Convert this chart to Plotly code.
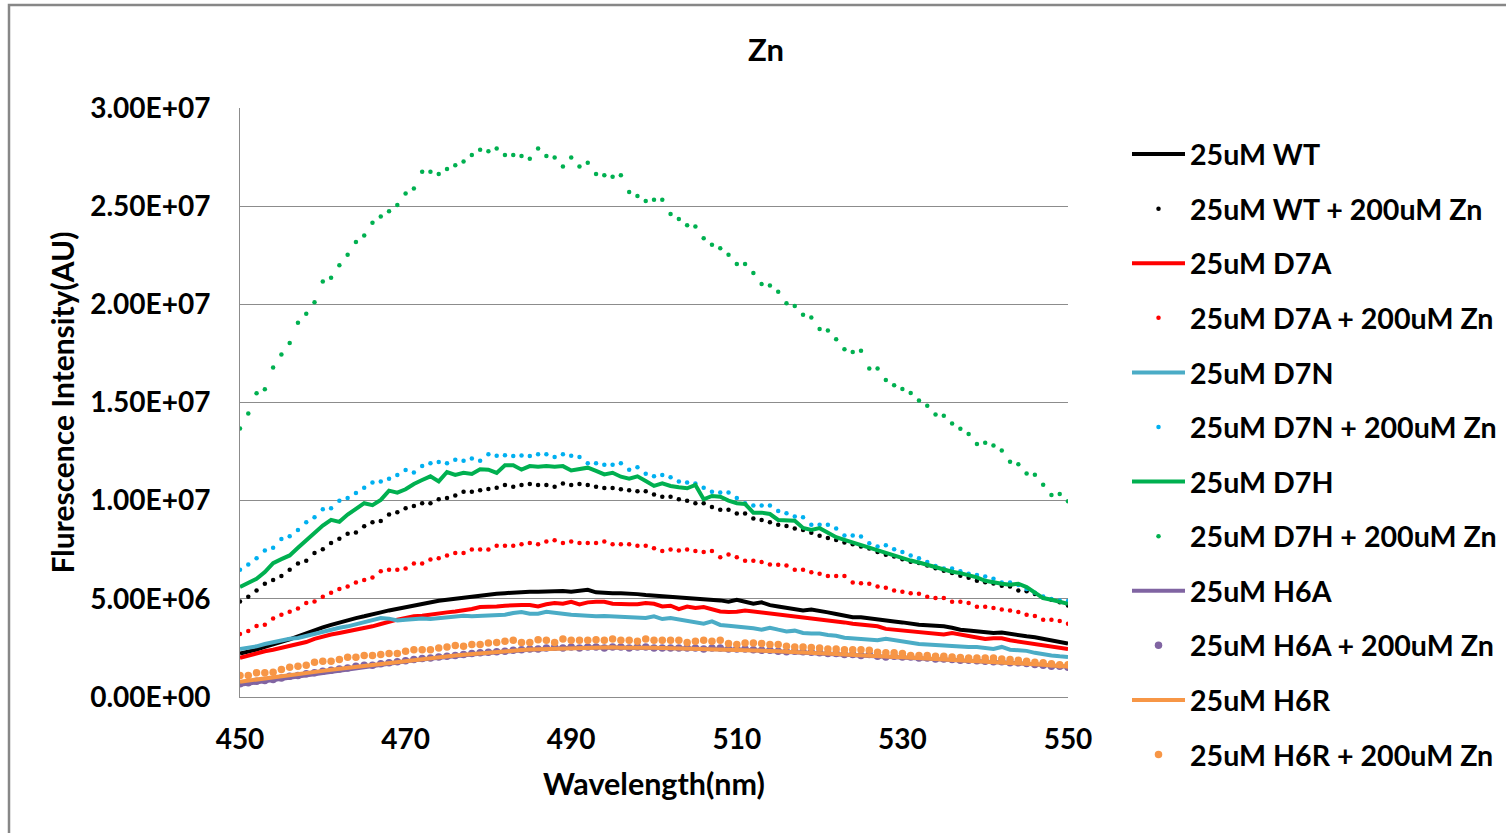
import plotly.graph_objects as go

# Wavelength (nm), 1 nm steps
wavelength = list(range(450, 551))

# Fluorescence intensity in units of 1e6 AU
wt = [2.21,2.30,2.41,2.55,2.67,2.80,2.94,3.09,3.26,3.43,3.55,3.67,3.80,3.90,4.02,4.11,4.19,4.31,4.41,4.50,
      4.56,4.66,4.75,4.82,4.90,4.95,5.01,5.07,5.12,5.16,5.21,5.26,5.29,5.33,5.33,5.36,5.36,5.38,5.36,5.40,
      5.36,5.43,5.46,5.33,5.29,5.29,5.29,5.29,5.24,5.19,
      5.16,5.12,5.12,5.09,5.04,4.99,4.95,4.92,4.92,4.85,4.95,4.85,4.75,4.82,4.68,4.61,4.55,4.48,4.41,4.45,
      4.40,4.31,4.23,4.14,4.06,4.06,4.02,3.97,3.94,3.85,3.80,3.73,3.68,3.65,3.63,3.60,3.53,3.43,3.39,3.34,
      3.31,3.26,3.29,3.21,3.16,3.09,3.04,2.96,2.89,2.78,2.72]
wt_zn = [4.87,5.11,5.43,5.77,5.96,6.16,6.48,6.80,6.94,7.33,7.53,7.84,8.06,8.31,8.38,8.70,8.90,8.97,9.29,9.41,
         9.61,9.73,9.87,9.87,10.07,10.14,10.26,10.46,10.46,10.53,10.60,10.66,10.80,10.71,10.80,10.85,10.80,10.80,10.71,10.88,
         10.80,10.85,10.80,10.71,10.65,10.65,10.58,10.53,10.48,10.48,
         10.32,10.20,10.20,10.07,10.00,9.87,9.87,9.68,9.54,9.54,9.34,9.34,9.09,9.02,8.90,8.77,8.71,8.58,8.51,8.37,
         8.21,8.10,8.00,7.87,7.78,7.66,7.56,7.39,7.24,7.15,7.02,6.89,6.82,6.70,6.56,6.43,6.31,6.17,6.07,5.92,
         5.85,5.78,5.67,5.63,5.43,5.38,5.24,5.07,4.95,4.82,4.66]
d7a = [1.99,2.11,2.25,2.33,2.41,2.50,2.62,2.67,2.80,2.96,3.09,3.18,3.26,3.34,3.43,3.53,3.60,3.72,3.84,3.94,
       4.02,4.11,4.14,4.21,4.24,4.31,4.36,4.40,4.48,4.58,4.58,4.61,4.65,4.68,4.68,4.68,4.61,4.72,4.79,4.75,
       4.85,4.72,4.82,4.85,4.85,4.75,4.72,4.72,4.72,4.79,
       4.75,4.61,4.65,4.48,4.61,4.53,4.58,4.48,4.36,4.33,4.34,4.41,4.36,4.31,4.28,4.24,4.14,4.11,4.07,4.02,
       3.97,3.90,3.87,3.80,3.73,3.67,3.63,3.60,3.47,3.43,3.43,3.39,3.33,3.26,3.23,3.18,3.26,3.18,3.09,3.06,
       2.96,2.99,2.99,2.89,2.82,2.75,2.68,2.62,2.58,2.52,2.45]
d7a_zn = [3.21,3.36,3.62,3.68,4.00,4.19,4.34,4.51,4.79,4.87,5.11,5.31,5.50,5.63,5.83,5.96,6.09,6.41,6.48,6.48,
          6.55,6.80,6.80,7.00,7.07,7.21,7.33,7.33,7.51,7.51,7.51,7.71,7.71,7.71,7.78,7.85,7.78,7.92,7.99,7.85,
          7.92,7.85,7.85,7.85,7.92,7.78,7.78,7.78,7.71,7.71,
          7.58,7.44,7.51,7.46,7.51,7.44,7.38,7.44,7.12,7.26,7.12,6.94,6.94,6.87,6.75,6.73,6.70,6.48,6.48,6.36,
          6.28,6.16,6.16,6.16,5.83,5.80,5.77,5.63,5.56,5.43,5.36,5.29,5.26,5.11,5.04,5.04,4.85,4.85,4.79,4.60,
          4.60,4.53,4.46,4.40,4.33,4.19,4.13,3.94,3.94,3.87,3.73]
d7n = [2.45,2.50,2.58,2.70,2.80,2.89,2.97,3.01,3.12,3.23,3.31,3.43,3.53,3.60,3.70,3.80,3.94,4.02,3.99,3.90,
       3.94,3.97,4.00,3.97,4.02,4.07,4.11,4.14,4.11,4.14,4.14,4.18,4.19,4.28,4.33,4.24,4.24,4.34,4.28,4.24,
       4.19,4.16,4.11,4.11,4.12,4.10,4.11,4.09,4.02,4.02,
       4.11,3.97,4.02,3.94,3.85,3.80,3.73,3.85,3.67,3.63,3.60,3.56,3.50,3.43,3.53,3.43,3.34,3.38,3.26,3.23,
       3.23,3.16,3.12,3.02,2.99,2.99,2.92,2.89,2.96,2.89,2.82,2.75,2.70,2.68,2.65,2.62,2.58,2.58,2.55,2.55,
       2.52,2.45,2.55,2.41,2.38,2.35,2.25,2.16,2.11,2.07,2.04]
d7n_zn = [6.48,6.75,7.07,7.46,7.60,8.05,8.19,8.51,8.90,9.16,9.56,9.61,10.00,10.14,10.39,10.66,10.92,10.98,11.12,11.31,
          11.56,11.44,11.76,11.90,11.97,11.90,12.08,12.03,12.15,12.03,12.36,12.29,12.31,12.27,12.30,12.28,12.36,12.36,12.22,12.36,
          12.29,12.22,11.90,11.90,11.83,11.83,11.90,11.58,11.70,11.37,
          11.24,11.31,11.19,10.98,10.92,10.88,10.66,10.46,10.41,10.41,10.14,9.87,9.75,9.75,9.75,9.48,9.36,9.19,9.16,8.77,
          8.77,8.77,8.58,8.22,8.22,8.17,7.83,7.66,7.73,7.53,7.39,7.21,7.07,6.87,6.67,6.55,6.55,6.41,6.28,6.22,
          6.14,6.02,5.83,5.83,5.70,5.50,5.31,5.12,4.99,4.92,4.89]
d7h = [5.60,5.80,6.02,6.36,6.82,7.02,7.21,7.60,7.99,8.37,8.73,9.02,8.92,9.29,9.58,9.87,9.77,10.04,10.51,10.41,
       10.58,10.85,11.05,11.24,10.98,11.46,11.31,11.42,11.36,11.60,11.58,11.41,11.80,11.80,11.58,11.76,11.73,11.76,11.73,11.76,
       11.54,11.61,11.68,11.52,11.34,11.42,11.22,11.12,11.24,11.00,
       10.75,10.88,10.75,10.68,10.63,10.80,10.07,10.24,10.20,10.00,9.87,9.83,9.39,9.39,9.32,9.02,9.02,8.98,8.61,8.51,
       8.60,8.37,8.14,8.00,7.87,7.70,7.58,7.46,7.33,7.23,7.10,6.95,6.85,6.73,6.62,6.48,6.38,6.31,6.22,6.09,
       5.92,5.83,5.77,5.72,5.77,5.60,5.29,5.04,4.95,4.84,4.75]
d7h_zn = [13.68,14.44,15.47,15.68,16.78,17.44,18.03,19.06,19.52,20.10,21.16,21.35,21.99,22.52,23.18,23.50,24.15,24.47,24.74,25.06,
          25.65,25.90,26.75,26.75,26.64,26.89,27.09,27.28,27.60,27.87,27.80,27.94,27.60,27.60,27.55,27.41,27.94,27.55,27.48,27.02,
          27.48,27.02,27.21,26.64,26.57,26.50,26.57,25.72,25.52,25.26,
          25.33,25.33,24.60,24.35,24.03,23.96,23.36,23.04,22.86,22.52,22.06,22.06,21.60,21.03,20.96,20.64,20.05,19.91,19.47,19.33,
          18.74,18.67,18.22,17.71,17.57,17.64,16.73,16.73,16.15,15.88,15.69,15.49,15.10,14.83,14.39,14.32,13.93,13.66,13.40,12.88,
          12.95,12.81,12.56,11.98,11.85,11.39,11.32,10.81,10.29,10.34,9.97]
h6a = [0.62,0.68,0.75,0.80,0.86,0.93,1.01,1.06,1.12,1.19,1.25,1.30,1.37,1.43,1.50,1.54,1.60,1.66,1.70,1.76,
       1.82,1.87,1.91,1.96,2.01,2.05,2.08,2.13,2.17,2.20,2.24,2.28,2.31,2.34,2.38,2.41,2.42,2.45,2.48,2.48,
       2.51,2.49,2.52,2.53,2.51,2.53,2.52,2.50,2.52,2.51,
       2.50,2.48,2.50,2.48,2.47,2.46,2.44,2.45,2.44,2.42,2.42,2.40,2.37,2.37,2.35,2.32,2.31,2.30,2.27,2.26,
       2.24,2.21,2.20,2.18,2.15,2.14,2.12,2.09,2.07,2.05,2.03,2.00,1.98,1.96,1.94,1.91,1.90,1.88,1.85,1.83,
       1.81,1.79,1.76,1.74,1.72,1.69,1.66,1.63,1.60,1.57,1.54]
h6a_zn = [0.67,0.72,0.80,0.84,0.89,0.97,1.06,1.09,1.19,1.23,1.31,1.36,1.43,1.48,1.57,1.62,1.62,1.69,1.74,1.79,
          1.85,1.91,1.96,1.99,2.04,2.07,2.12,2.16,2.21,2.25,2.28,2.31,2.33,2.38,2.41,2.45,2.45,2.50,2.53,2.50,
          2.55,2.50,2.55,2.55,2.50,2.55,2.55,2.50,2.55,2.55,
          2.50,2.50,2.50,2.50,2.50,2.50,2.45,2.50,2.50,2.45,2.45,2.45,2.41,2.38,2.38,2.33,2.30,2.33,2.30,2.28,
          2.25,2.21,2.21,2.16,2.16,2.11,2.16,2.07,2.04,2.07,2.04,2.04,1.99,1.99,1.94,1.94,1.91,1.87,1.87,1.84,
          1.82,1.79,1.79,1.74,1.74,1.70,1.65,1.62,1.57,1.57,1.51]
h6r = [0.78,0.83,0.89,0.93,0.99,1.06,1.11,1.16,1.23,1.27,1.33,1.39,1.44,1.50,1.56,1.60,1.65,1.71,1.75,1.80,
       1.85,1.90,1.95,1.99,2.03,2.06,2.11,2.15,2.19,2.22,2.26,2.30,2.32,2.36,2.39,2.42,2.43,2.46,2.48,2.49,
       2.50,2.51,2.53,2.52,2.52,2.53,2.51,2.52,2.52,2.51,
       2.51,2.50,2.49,2.49,2.48,2.47,2.45,2.45,2.44,2.43,2.41,2.40,2.38,2.36,2.35,2.33,2.30,2.29,2.27,2.25,
       2.23,2.21,2.19,2.17,2.14,2.12,2.11,2.08,2.06,2.04,2.02,2.00,1.97,1.95,1.93,1.91,1.89,1.87,1.85,1.83,
       1.81,1.79,1.77,1.74,1.72,1.70,1.67,1.64,1.61,1.58,1.55]
h6r_zn = [1.09,1.09,1.23,1.23,1.26,1.40,1.51,1.57,1.62,1.77,1.82,1.82,1.91,2.02,2.02,2.11,2.11,2.16,2.21,2.21,
          2.33,2.41,2.41,2.41,2.50,2.55,2.62,2.58,2.67,2.67,2.75,2.78,2.84,2.89,2.78,2.78,2.92,2.89,2.78,2.96,
          2.89,2.89,2.89,2.92,2.89,2.96,2.89,2.89,2.84,2.96,
          2.89,2.89,2.89,2.89,2.78,2.84,2.89,2.84,2.89,2.72,2.67,2.75,2.75,2.72,2.67,2.67,2.58,2.55,2.55,2.52,
          2.50,2.45,2.45,2.41,2.41,2.41,2.38,2.28,2.25,2.25,2.21,2.11,2.11,2.11,2.07,2.07,2.04,2.01,1.99,1.99,
          1.99,1.99,1.94,1.91,1.87,1.82,1.77,1.74,1.69,1.64,1.64]

series_names = ["25uM WT", "25uM WT + 200uM Zn", "25uM D7A", "25uM D7A + 200uM Zn",
                "25uM D7N", "25uM D7N + 200uM Zn", "25uM D7H", "25uM D7H + 200uM Zn",
                "25uM H6A", "25uM H6A + 200uM Zn", "25uM H6R", "25uM H6R + 200uM Zn"]
series_values = [wt, wt_zn, d7a, d7a_zn, d7n, d7n_zn, d7h, d7h_zn, h6a, h6a_zn, h6r, h6r_zn]
series_colors = ["#000000", "#000000", "#FF0000", "#FF0000",
                 "#4BACC6", "#00B0F0", "#00B050", "#00B050",
                 "#8064A2", "#8064A2", "#F79646", "#F79646"]
series_solid = [True, False, True, False, True, False, True, False, True, False, True, False]
dot_sizes = [0, 4.5, 0, 4.5, 0, 4.5, 0, 4.5, 0, 7.5, 0, 7.5]

y_tickvals = [0, 5e6, 1e7, 1.5e7, 2e7, 2.5e7, 3e7]
y_ticktext = ["0.00E+00", "5.00E+06", "1.00E+07", "1.50E+07", "2.00E+07", "2.50E+07", "3.00E+07"]
x_tickvals = [450, 470, 490, 510, 530, 550]

FONT = "Lato"
fig = go.Figure()
for i, (name, vals, col, solid, ds) in enumerate(zip(series_names, series_values, series_colors,
                                                     series_solid, dot_sizes)):
    yv = [v * 1e6 for v in vals]
    if solid:
        fig.add_trace(go.Scatter(x=wavelength, y=yv, name=name, mode="lines",
                                 line=dict(color=col, width=4), legendgroup=f"g{i}"))
    else:
        fig.add_trace(go.Scatter(x=wavelength, y=yv, name=name, mode="markers",
                                 marker=dict(color=col, size=ds, line=dict(width=0)),
                                 legendgroup=f"g{i}"))

W, H = 1506, 833
L, R, T, B = 240, 1068, 108, 697
def px(x):
    return (x - L) / (R - L)
def py(y):
    return (B - y) / (B - T)

fig.update_layout(
    width=W, height=H,
    margin=dict(l=L, r=W - R, t=T, b=H - B, autoexpand=False),
    paper_bgcolor="white", plot_bgcolor="white",
    font=dict(family=FONT, color="#000000", weight="bold"),
    title=dict(text="Zn", x=766 / W, xanchor="center", y=1 - 50 / H, yanchor="middle",
               font=dict(family=FONT, size=31, weight="bold", color="#000000")),
    xaxis=dict(range=[450, 550], tickvals=x_tickvals, showgrid=False, zeroline=False,
               showline=True, linecolor="#8c8c8c", linewidth=1, ticks="",
               ticklabelstandoff=17,
               tickfont=dict(family=FONT, size=28, weight="bold", color="#000000"),
               title=dict(text="Wavelength(nm)", standoff=20,
                          font=dict(family=FONT, size=30.5, weight="bold", color="#000000"))),
    yaxis=dict(range=[0, 3e7], tickvals=y_tickvals, ticktext=y_ticktext, showgrid=True,
               gridcolor="#8c8c8c", gridwidth=1, zeroline=False,
               showline=True, linecolor="#8c8c8c", linewidth=1, ticks="",
               ticklabelstandoff=23,
               tickfont=dict(family=FONT, size=28, weight="bold", color="#000000"),
               title=dict(text="Flurescence Intensity(AU)", standoff=6,
                          font=dict(family=FONT, size=30, weight="bold", color="#000000"))),
    legend=dict(x=px(1127), xanchor="left", y=py(129), yanchor="top",
                font=dict(family=FONT, size=28.6, weight="bold", color="#000000"),
                itemwidth=53, tracegroupgap=14.4, maxheight=780, bgcolor="rgba(0,0,0,0)"),
    showlegend=True,
    shapes=[dict(type="rect", xref="paper", yref="paper",
                 x0=px(9), x1=px(1530), y0=py(860), y1=py(5),
                 line=dict(color="#878787", width=2.5), layer="below")],
)

fig.write_html("out.html")
